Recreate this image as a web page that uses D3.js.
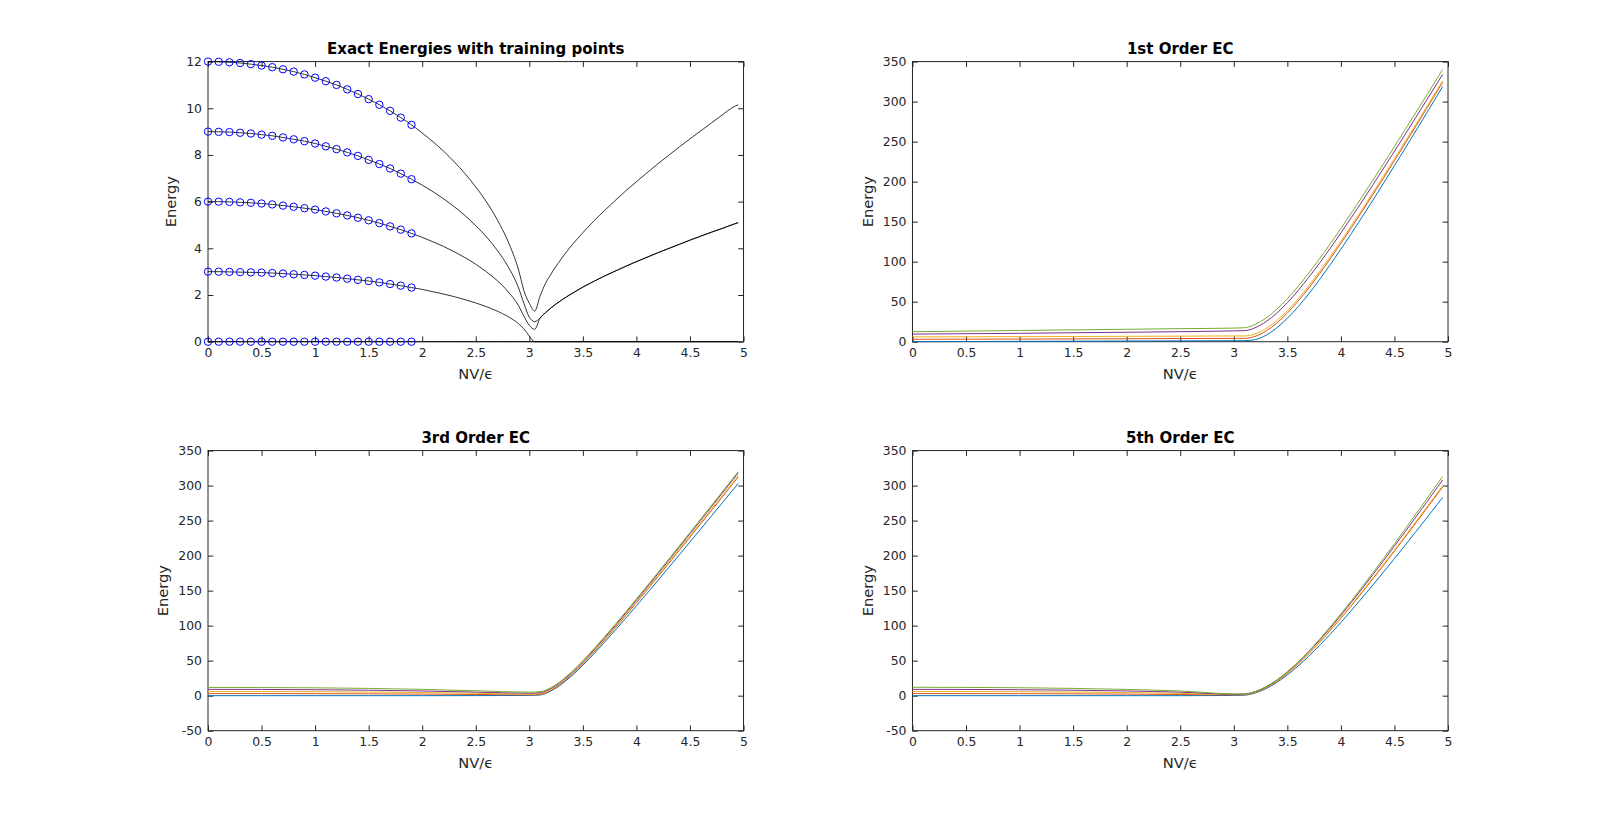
<!DOCTYPE html>
<html><head><meta charset="utf-8">
<script src="https://cdn.jsdelivr.net/npm/d3@7"></script>
<style>body{margin:0;background:#fff;} svg{display:block;} text{font-family:"DejaVu Sans",sans-serif;}</style>
</head><body><svg id="fig" width="1600" height="821"></svg>
<script>
// ---------- data ----------
const xTicks = [0,0.5,1,1.5,2,2.5,3,3.5,4,4.5,5];
const yTicksExact = [0,2,4,6,8,10,12];
const yTicksEC1 = [0,50,100,150,200,250,300,350];
const yTicksEC35 = [-50,0,50,100,150,200,250,300,350];
const titles = ["Exact Energies with training points","1st Order EC","3rd Order EC","5th Order EC"];

const xTrain = [0,0.1,0.2,0.3,0.4,0.5,0.6,0.7,0.8,0.9,1.0,1.1,1.2,1.3,1.4,1.5,1.6,1.7,1.8,1.9];
const trainE0 = [0,0,0,0,0,0,0,0,0,0,0,0,0,0,0,0,0,0,0,0];
const trainE1 = [3.00,3.00,2.99,2.98,2.97,2.96,2.94,2.92,2.89,2.86,2.83,2.79,2.75,2.70,2.65,2.60,2.54,2.47,2.40,2.32];
const trainE2 = [6.00,6.00,5.99,5.97,5.95,5.92,5.88,5.83,5.78,5.72,5.66,5.58,5.50,5.41,5.31,5.20,5.08,4.94,4.80,4.64];
const trainE3 = [9.00,8.99,8.98,8.95,8.92,8.87,8.82,8.75,8.67,8.59,8.49,8.37,8.25,8.11,7.96,7.79,7.61,7.42,7.20,6.96];
const trainE4 = [12.00,11.99,11.97,11.94,11.89,11.83,11.76,11.67,11.57,11.45,11.31,11.16,11.00,10.81,10.61,10.39,10.15,9.89,9.60,9.29];

const xExact = [0,0.1,0.2,0.3,0.4,0.5,0.6,0.7,0.8,0.9,1.0,1.1,1.2,1.3,1.4,1.5,1.6,1.7,1.8,1.9,2.0,2.1,2.2,2.3,2.4,2.5,2.6,2.7,2.8,2.9,2.95,3.0,3.05,3.1,3.15,3.2,3.3,3.4,3.5,3.6,3.7,3.8,3.9,4.0,4.1,4.2,4.3,4.4,4.5,4.6,4.7,4.8,4.9,4.95];
const exact0 = [0,0,0,0,0,0,0,0,0,0,0,0,0,0,0,0,0,0,0,0,0,0,0,0,0,0,0,0,0,0,0,0,0,0,0,0,0,0,0,0,0,0,0,0,0,0,0,0,0,0,0,0,0,0];
const exact1 = [3.00,3.00,2.99,2.98,2.97,2.96,2.94,2.92,2.89,2.86,2.83,2.79,2.75,2.70,2.65,2.60,2.54,2.47,2.40,2.32,2.24,2.14,2.04,1.93,1.80,1.66,1.50,1.31,1.08,0.77,0.55,0.24,0,0,0,0,0,0,0,0,0,0,0,0,0,0,0,0,0,0,0,0,0,0];
const exact2 = [6.00,6.00,5.99,5.97,5.95,5.92,5.88,5.83,5.78,5.72,5.66,5.58,5.50,5.41,5.31,5.20,5.08,4.94,4.80,4.64,4.47,4.28,4.08,3.85,3.60,3.32,2.99,2.62,2.15,1.54,1.09,0.70,0.53,1.01,1.24,1.44,1.78,2.07,2.34,2.58,2.81,3.02,3.23,3.43,3.62,3.81,3.99,4.17,4.35,4.52,4.69,4.85,5.02,5.10];
const exact3 = [9.00,8.99,8.98,8.95,8.92,8.87,8.82,8.75,8.67,8.59,8.49,8.37,8.25,8.11,7.96,7.79,7.61,7.42,7.20,6.96,6.71,6.43,6.12,5.78,5.40,4.97,4.49,3.92,3.23,2.30,1.64,1.05,0.86,1.01,1.24,1.44,1.78,2.07,2.34,2.58,2.81,3.02,3.23,3.43,3.62,3.81,3.99,4.17,4.35,4.52,4.69,4.85,5.02,5.10];
const exact4 = [12.00,11.99,11.97,11.94,11.89,11.83,11.76,11.67,11.57,11.45,11.31,11.16,11.00,10.81,10.61,10.39,10.15,9.89,9.60,9.29,8.94,8.57,8.16,7.70,7.20,6.63,5.99,5.23,4.31,3.07,2.18,1.65,1.31,1.95,2.49,2.88,3.56,4.15,4.67,5.16,5.61,6.04,6.46,6.85,7.24,7.62,7.98,8.34,8.69,9.03,9.37,9.71,10.04,10.15];

const xEC = [0,0.5,1,1.5,2,2.5,3.0,3.1,3.2,3.3,3.4,3.5,3.6,3.7,3.8,3.9,4.0,4.1,4.2,4.3,4.4,4.5,4.6,4.7,4.8,4.9,4.95];
// 1st order EC
const ec1Blue   = [0,0.2,0.4,0.6,0.8,1.0,1.2, 1.3,2.6,8.0,17.1,29.2,43.6,59.8,77.5,96.1,115.6,135.6,156.2,177.1,198.4,219.9,241.6,263.5,285.5,307.6,318.7];
const ec1Orange = [3,3.15,3.3,3.5,3.7,3.95,4.2, 4.2,6.7,13.2,23.1,35.8,50.6,67.1,84.8,103.5,122.9,142.8,163.2,184.0,205.0,226.3,247.7,269.3,291.1,313.0,324.0];
const ec1Yellow = [6,6.15,6.3,6.5,6.7,6.95,7.2, 7.2,9.7,16.2,26.1,38.7,53.5,69.9,87.6,106.2,125.5,145.4,165.7,186.4,207.4,228.6,250.0,271.5,293.2,315.0,326.0];
const ec1Purple = [9.5,10,10.5,11.2,11.8,12.5,13.5, 13.8,17.5,25.0,35.6,48.7,63.8,80.4,98.1,116.6,135.9,155.6,175.7,196.2,217.0,237.9,259.0,280.3,301.7,323.2,334.0];
const ec1Green  = [12.5,13.2,14,14.8,15.5,16.3,17, 17.5,21.6,29.4,40.3,53.7,69.0,85.7,103.5,122.2,141.5,161.3,181.5,202.0,222.8,243.8,265.0,286.3,307.7,329.3,340.1];
// 3rd order EC
const ec3Blue   = [0,0,0,0,0,0.1,0.3, 1.0,6.5,16.2,28.9,43.5,59.3,75.9,93.0,110.5,128.3,146.2,164.4,182.7,201.0,219.5,237.9,256.5,275.1,293.7,303.1];
const ec3Orange = [3,2.96,2.83,2.6,2.24,1.7,1.1, 1.8,7.4,17.4,30.5,45.5,61.7,78.7,96.3,114.3,132.6,151.1,169.7,188.5,207.3,226.3,245.3,264.3,283.4,302.6,312.2];
const ec3Yellow = [6,5.9,5.66,5.2,4.5,3.4,2.2, 2.9,8.5,18.6,31.7,46.7,62.9,80.0,97.7,115.7,134.0,152.5,171.2,190.0,208.9,227.9,247.0,266.1,285.3,304.4,314.1];
const ec3Purple = [9,8.9,8.5,7.8,6.7,5.1,3.5, 4.2,9.9,20.0,33.2,48.3,64.8,82.0,99.8,117.9,136.4,155.1,173.9,192.9,211.9,231.1,250.3,269.6,288.9,308.2,317.9];
const ec3Green  = [11.8,11.6,11.2,10.4,9.0,7.0,5.0, 5.7,11.4,21.5,34.7,49.9,66.3,83.6,101.4,119.6,138.1,156.8,175.7,194.7,213.8,232.9,252.2,271.5,290.8,310.2,319.9];
// 5th order EC
const ec5Blue   = [0,0,0,0,0,0,0.3, 0.7,3.9,10.0,18.7,29.6,42.3,56.3,71.6,87.7,104.6,122.1,140.0,158.3,176.9,195.8,214.9,234.2,253.6,273.2,283.1];
const ec5Orange = [3,2.96,2.83,2.6,2.24,1.66,1.0, 1.4,4.7,11.1,20.3,31.7,45.1,59.9,75.9,92.9,110.6,128.9,147.7,167.0,186.5,206.4,226.4,246.7,267.1,287.7,298.0];
const ec5Yellow = [6,5.92,5.66,5.2,4.47,3.3,1.5, 1.9,5.3,11.7,20.9,32.4,45.8,60.7,76.8,93.8,111.6,130.1,149.0,168.3,188.0,207.9,228.1,248.4,269.0,289.6,300.0];
const ec5Purple = [9,8.88,8.5,7.8,6.7,5.0,2.0, 2.4,5.9,12.5,21.9,33.7,47.4,62.7,79.2,96.6,114.9,133.8,153.2,173.0,193.1,213.6,234.2,255.1,276.1,297.3,308.0];
const ec5Green  = [12,11.8,11.3,10.4,8.95,6.7,2.5, 2.4,5.9,12.6,22.2,34.2,48.1,63.6,80.4,98.2,116.8,136.0,155.7,175.8,196.3,217.0,238.1,259.3,280.6,302.2,313.0];

const lineColors = ['#0072BD','#D95319','#EDB120','#7E2F8E','#77AC30'];

// ---------- drawing ----------
const W = 1600, H = 821;
const svg = d3.select('#fig');
const axisColor = '#262626';
const subPos = [[0.13,0.5838,0.3347,0.3412],[0.5703,0.5838,0.3347,0.3412],[0.13,0.11,0.3347,0.3412],[0.5703,0.11,0.3347,0.3412]];
const tickLen = 5.35;

function makeAxes(pos, yDomain, yTicks, title){
  const left = pos[0]*W, width = pos[2]*W, top = H-(pos[1]+pos[3])*H, height = pos[3]*H;
  const g = svg.append('g').attr('transform', `translate(${left},${top})`);
  const x = d3.scaleLinear().domain([0,5]).range([0,width]);
  const y = d3.scaleLinear().domain(yDomain).range([height,0]);
  const fmt = d => String(d);
  const style = sel => {
    sel.select('.domain').remove();
    sel.selectAll('line').attr('stroke', axisColor).attr('stroke-width', 1);
    sel.selectAll('text').attr('fill', axisColor).attr('font-size', '12.4px').attr('font-family','DejaVu Sans');
  };
  g.append('g').attr('transform', `translate(0,${height})`)
    .call(d3.axisBottom(x).tickValues(xTicks).tickSizeInner(-tickLen).tickSizeOuter(0).tickPadding(7).tickFormat(fmt)).call(style);
  g.append('g')
    .call(d3.axisTop(x).tickValues(xTicks).tickSizeInner(-tickLen).tickSizeOuter(0).tickFormat('')).call(style);
  const yAx = g.append('g')
    .call(d3.axisLeft(y).tickValues(yTicks).tickSizeInner(-tickLen).tickSizeOuter(0).tickPadding(6).tickFormat(fmt)).call(style);
  g.append('g').attr('transform', `translate(${width},0)`)
    .call(d3.axisRight(y).tickValues(yTicks).tickSizeInner(-tickLen).tickSizeOuter(0).tickFormat('')).call(style);
  g.append('rect').attr('x',0).attr('y',0).attr('width',width).attr('height',height)
    .attr('fill','none').attr('stroke',axisColor).attr('stroke-width',1);
  let maxW = 0;
  yAx.selectAll('text').each(function(){ maxW = Math.max(maxW, this.getComputedTextLength()); });
  g.append('text').attr('x', width/2).attr('y', -7.5).attr('text-anchor','middle')
    .attr('font-size','15px').attr('font-weight','bold').attr('fill','#000').text(title);
  g.append('text').attr('x', width/2).attr('y', height+37).attr('text-anchor','middle')
    .attr('font-size','14.67px').attr('fill',axisColor).text('NV/\u03F5');
  const lx = -(6 + maxW + 10);
  g.append('text').attr('transform', `translate(${lx},${height/2}) rotate(-90)`).attr('text-anchor','middle')
    .attr('font-size','14.67px').attr('fill',axisColor).text('Energy');
  const plot = g.append('g');
  return {plot, x, y};
}

function drawLine(ax, xs, ys, color, width){
  const line = d3.line().x(d => ax.x(d[0])).y(d => ax.y(d[1])).curve(d3.curveMonotoneX);
  ax.plot.append('path').datum(xs.map((v,i)=>[v, ys[i]]))
    .attr('d', line).attr('fill','none').attr('stroke', color).attr('stroke-width', width);
}

// Exact energies
const a1 = makeAxes(subPos[0], [0,12], yTicksExact, titles[0]);
[exact0, exact1, exact2, exact3, exact4].forEach(s => drawLine(a1, xExact, s, '#000', 0.8));
[trainE0, trainE1, trainE2, trainE3, trainE4].forEach(s => {
  a1.plot.append('g').selectAll('circle').data(xTrain.map((v,i)=>[v, s[i]])).join('circle')
    .attr('cx', d => a1.x(d[0])).attr('cy', d => a1.y(d[1])).attr('r', 3.7)
    .attr('fill','none').attr('stroke','#0000FF').attr('stroke-width', 1);
});

// EC plots
const a2 = makeAxes(subPos[1], [0,350], yTicksEC1, titles[1]);
[ec1Blue, ec1Orange, ec1Yellow, ec1Purple, ec1Green].forEach((s,i) => drawLine(a2, xEC, s, lineColors[i], 1));
const a3 = makeAxes(subPos[2], [-50,350], yTicksEC35, titles[2]);
[ec3Blue, ec3Orange, ec3Yellow, ec3Purple, ec3Green].forEach((s,i) => drawLine(a3, xEC, s, lineColors[i], 1));
const a4 = makeAxes(subPos[3], [-50,350], yTicksEC35, titles[3]);
[ec5Blue, ec5Orange, ec5Yellow, ec5Purple, ec5Green].forEach((s,i) => drawLine(a4, xEC, s, lineColors[i], 1));
</script></body></html>
